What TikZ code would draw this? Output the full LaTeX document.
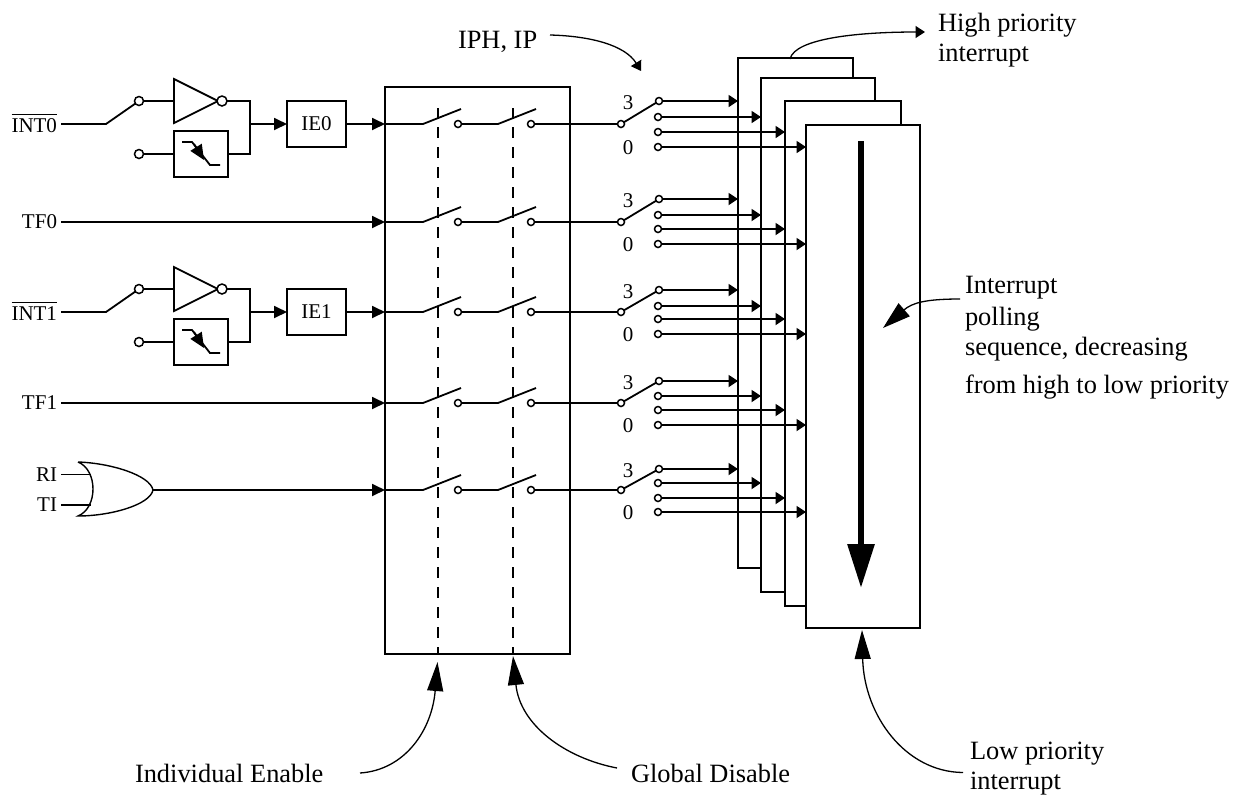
\documentclass[tikz,border=0pt]{standalone}
\usepackage{fontspec}
\setmainfont{Liberation Serif}
\usetikzlibrary{arrows.meta}

\begin{document}
\begin{tikzpicture}[x=1pt,y=-1pt,line width=1.8pt,every node/.style={font=\fontsize{21}{27}\selectfont}]
\tikzset{box/.style = {shape=rectangle,draw,fill=white,inner sep=0pt,outer sep=0pt}}
\tikzset{port/.style = {shape=circle,draw,fill=white,inner sep=0pt,outer sep=0pt,minimum size=7pt,line width=1.5pt}}
\tikzset{txt/.style = {inner sep=0pt,outer sep=0pt}}
\tikzset{bigtxt/.style = {inner sep=0pt,outer sep=0pt,anchor=base west,font=\fontsize{26.4}{30}\selectfont}}
\tikzset{edge/.style = {-{Triangle[length=13pt,width=12pt]}}}
\tikzset{smalledge/.style = {-{Triangle[length=9.5pt,width=12pt]}}}
\tikzset{pointer/.style = {line width=1.3pt,-{Triangle[length=29pt,width=16pt]}}}
\tikzset{dashline/.style = {dash pattern=on 11pt off 9pt,dash phase=1pt}}
\path[use as bounding box] (0,0) rectangle (1239,796);
% priority stack
\node[box,minimum width=115pt,minimum height=510pt] (poll1) at (795.5,313) {};
\node[box,minimum width=114pt,minimum height=514pt] (poll2) at (818,335) {};
\node[box,minimum width=116pt,minimum height=505pt] (poll3) at (843,353.5) {};
\node[box,minimum width=114pt,minimum height=503pt] (poll4) at (863,376.5) {};
% enable block
\node[box,minimum width=185pt,minimum height=567pt] (enable) at (477.5,370.5) {};
\coordinate (ietop) at (438,108);
\coordinate (gdtop) at (513,108);
\draw[dashline] (ietop) -- (ietop |- enable.south);
\draw[dashline] (gdtop) -- (gdtop |- enable.south);
% switch rows
\foreach \r/\y/\a/\b/\c/\d in {1/124/101/117/132/147,2/222/199/215/229/244,3/312/290/306/319/334,4/403/381/396/410/425,5/490/469/483/498/512}{
  \coordinate (in\r) at (enable.west |- 0,\y);
  \coordinate (ja\r) at (423,\y);
  \coordinate (jb\r) at (498,\y);
  \coordinate (ta\r) at (461,\y-15);
  \coordinate (tb\r) at (536,\y-15);
  \node[port] (pa\r) at (458,\y) {};
  \node[port] (pb\r) at (531,\y) {};
  \node[port] (sel\r) at (621,\y) {};
  \node[port] (o\r a) at (659,\a) {};
  \node[port] (o\r b) at (658,\b) {};
  \node[port] (o\r c) at (658,\c) {};
  \node[port] (o\r d) at (658,\d) {};
  \node[txt] (hi\r) at (628,\a+1.5) {3};
  \node[txt] (lo\r) at (628,\d+1) {0};
  \draw (in\r) -- (ja\r) -- (ta\r);
  \draw (pa\r) -- (jb\r) -- (tb\r);
  \draw (pb\r) -- (sel\r);
  \draw (sel\r) -- (o\r a);
  \draw[smalledge] (o\r a) -- (poll1.west |- o\r a);
  \draw[smalledge] (o\r b) -- (poll2.west |- o\r b);
  \draw[smalledge] (o\r c) -- (poll3.west |- o\r c);
  \draw[smalledge] (o\r d) -- (poll4.west |- o\r d);
}
% external inputs
\foreach \n/\r/\y in {0/1/124,1/3/312}{
  \node[txt,anchor=base east] (int\n) at (57,\y+8) {$\overline{\hbox{\rule{0pt}{16.5pt}INT\n}}$};
  \coordinate (jin\n) at (106,\y);
  \coordinate (intout\n) at (61,\y);
  \node[port,minimum size=9pt] (pup\n) at (139,\y-23) {};
  \node[port,minimum size=9pt] (pdn\n) at (139,\y+30) {};
  \draw (intout\n) -- (jin\n) -- (pup\n);
  \draw (174,\y-45) -- (218,\y-23) -- (174,\y-1) -- cycle;
  \node[port,minimum size=10pt] (inv\n) at (222,\y-23) {};
  \node[box,minimum width=54pt,minimum height=46pt] (det\n) at (201,\y+30) {};
  \draw (pup\n) -- (174,\y-23);
  \draw (pdn\n) -- (det\n);
  \draw (182,\y+18) -- (192,\y+18) -- (210,\y+41) -- (220,\y+41);
  \draw[-{Triangle[length=15pt,width=13pt]}] (194,\y+20) -- (204,\y+36);
  \node[box,minimum width=59pt,minimum height=46pt] (ie\n) at (316.5,\y) {IE\n};
  \coordinate (jo\n) at (250,\y);
  \draw (inv\n) -| (jo\n);
  \draw (det\n) -| (jo\n);
  \draw[edge] (jo\n) -- (ie\n);
  \draw[edge] (ie\n) -- (in\r);
}
\node[txt,anchor=east] (tf0) at (57,222) {TF0};
\node[txt,anchor=east] (tf1) at (57,403) {TF1};
\draw[edge] (tf0.east) ++(4,0) -- (in2);
\draw[edge] (tf1.east) ++(4,0) -- (in4);
% or gate
\node[txt,anchor=east] (ri) at (57,474.5) {RI};
\node[txt,anchor=east] (ti) at (57,505) {TI};
\coordinate (gate) at (153,490);
\draw[line width=1.4pt] (78,462) .. controls (110,463) and (150,475) .. (gate) .. controls (150,505) and (110,516) .. (78,516) .. controls (98,508) and (98,470) .. (78,462);
\draw (ri.east) ++(4,0) -- (91,474.5);
\draw (ti.east) ++(4,0) -- (91,505);
\draw[edge] (gate) -- (in5);
% polling arrow
\coordinate (pollbeg) at (861,141);
\coordinate (pollend) at (861,588);
\draw[line width=6pt,-{Triangle[length=44pt,width=26pt]}] (pollbeg) -- (pollend);
% labels
\node[bigtxt] (high1) at (938,31) {High priority};
\node[bigtxt] (high2) at (938,61) {interrupt};
\node[bigtxt] (low1) at (970,759) {Low priority};
\node[bigtxt] (low2) at (970,789) {interrupt};
\node[bigtxt] (iphtxt) at (458,48) {IPH, IP};
\node[bigtxt] (ietxt) at (135,782) {Individual Enable};
\node[bigtxt] (gdtxt) at (631,782) {Global Disable};
\node[bigtxt] (seq1) at (965,293) {Interrupt};
\node[bigtxt] (seq2) at (965,325) {polling};
\node[bigtxt] (seq3) at (965,355) {sequence, decreasing};
\node[bigtxt] (seq4) at (965,393) {from high to low priority};
% curved pointers
\coordinate (highbeg) at (790,59);
\coordinate (highend) at (925,32);
\draw[line width=1.3pt,smalledge] (highbeg) .. controls (795,38) and (860,32) .. (highend);
\coordinate (iphbeg) at (550,35);
\coordinate (iphend) at (641,71);
\draw[line width=1.3pt,smalledge] (iphbeg) .. controls (590,36) and (625,45) .. (iphend);
\coordinate (iebeg) at (360,773);
\coordinate (ieend) at (437.5,662);
\draw[pointer] (iebeg) .. controls (405,770) and (432,730) .. (ieend);
\coordinate (gdbeg) at (617,768);
\coordinate (gdend) at (513,656);
\draw[pointer] (gdbeg) .. controls (565,758) and (520,725) .. (gdend);
\coordinate (lowbeg) at (963,772.5);
\coordinate (lowend) at (862,630);
\draw[pointer] (lowbeg) .. controls (905,772) and (864,715) .. (lowend);
\coordinate (seqbeg) at (960,299);
\coordinate (seqend) at (883,328);
\draw[pointer,-{Triangle[length=28pt,width=17pt]}] (seqbeg) .. controls (925,299) and (912,303) .. (seqend);
\end{tikzpicture}
\end{document}
